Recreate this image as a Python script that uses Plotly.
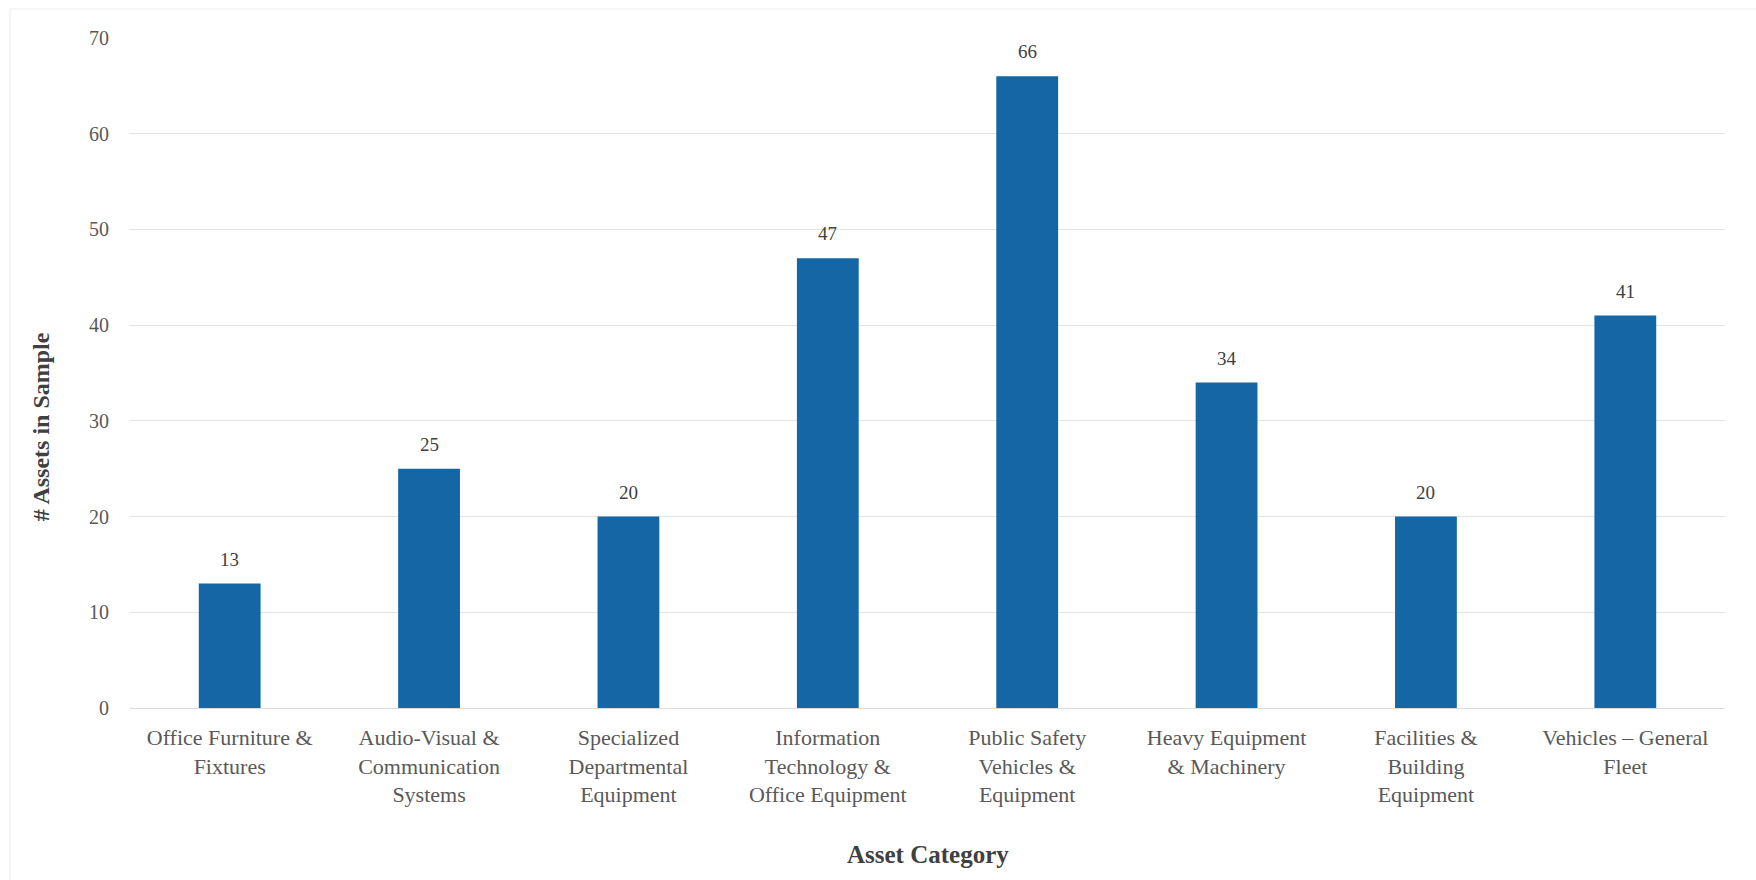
import plotly.graph_objects as go

categories = [
    "Office Furniture &<br>Fixtures",
    "Audio-Visual &<br>Communication<br>Systems",
    "Specialized<br>Departmental<br>Equipment",
    "Information<br>Technology &<br>Office Equipment",
    "Public Safety<br>Vehicles &<br>Equipment",
    "Heavy Equipment<br>& Machinery",
    "Facilities &<br>Building<br>Equipment",
    "Vehicles – General<br>Fleet",
]
values = [13, 25, 20, 47, 66, 34, 20, 41]
y_ticks = [0, 10, 20, 30, 40, 50, 60, 70]

bar_color = "#1566A5"
font_family = "Liberation Serif, Times New Roman, serif"

fig = go.Figure()
fig.add_trace(go.Bar(
    x=categories, y=values,
    marker=dict(color=bar_color, line=dict(width=0)),
    hoverinfo="skip",
))

for c, v in zip(categories, values):
    fig.add_annotation(
        x=c, y=v, text=str(v), showarrow=False,
        yanchor="bottom", yshift=12,
        font=dict(family=font_family, size=19, color="#404040"),
    )

fig.add_annotation(
    xref="paper", yref="paper", x=-0.056, y=0.42,
    text="<b># Assets in Sample</b>", textangle=-90, showarrow=False,
    xanchor="center", yanchor="middle",
    font=dict(family=font_family, size=24, color="#404040"),
)
fig.add_annotation(
    xref="paper", yref="paper", x=0.5, y=-0.218,
    text="<b>Asset Category</b>", showarrow=False,
    xanchor="center", yanchor="middle",
    font=dict(family=font_family, size=25, color="#404040"),
)

fig.update_layout(
    width=1756, height=880,
    margin=dict(l=130, r=31, t=38, b=172),
    paper_bgcolor="white", plot_bgcolor="white",
    bargap=0.69,
    showlegend=False,
    font=dict(family=font_family, color="#595959"),
    xaxis=dict(
        showgrid=False, showline=False, ticks="",
        tickfont=dict(family=font_family, size=22, color="#595959"),
        ticklabelstandoff=14,
    ),
    yaxis=dict(
        range=[0, 70], tickvals=y_ticks,
        showgrid=True, gridcolor="#e4e4e4", gridwidth=1,
        zeroline=True, zerolinecolor="#dcdcdc", zerolinewidth=1,
        showline=False, ticks="",
        tickfont=dict(family=font_family, size=20, color="#595959"),
        ticklabelstandoff=20,
    ),
)
fig.add_shape(type="rect", xref="paper", yref="paper",
              x0=-0.0752, x1=1.022, y0=-0.264, y1=1.0433,
              line=dict(color="#eeeeee", width=1))

fig.write_html("out.html")
